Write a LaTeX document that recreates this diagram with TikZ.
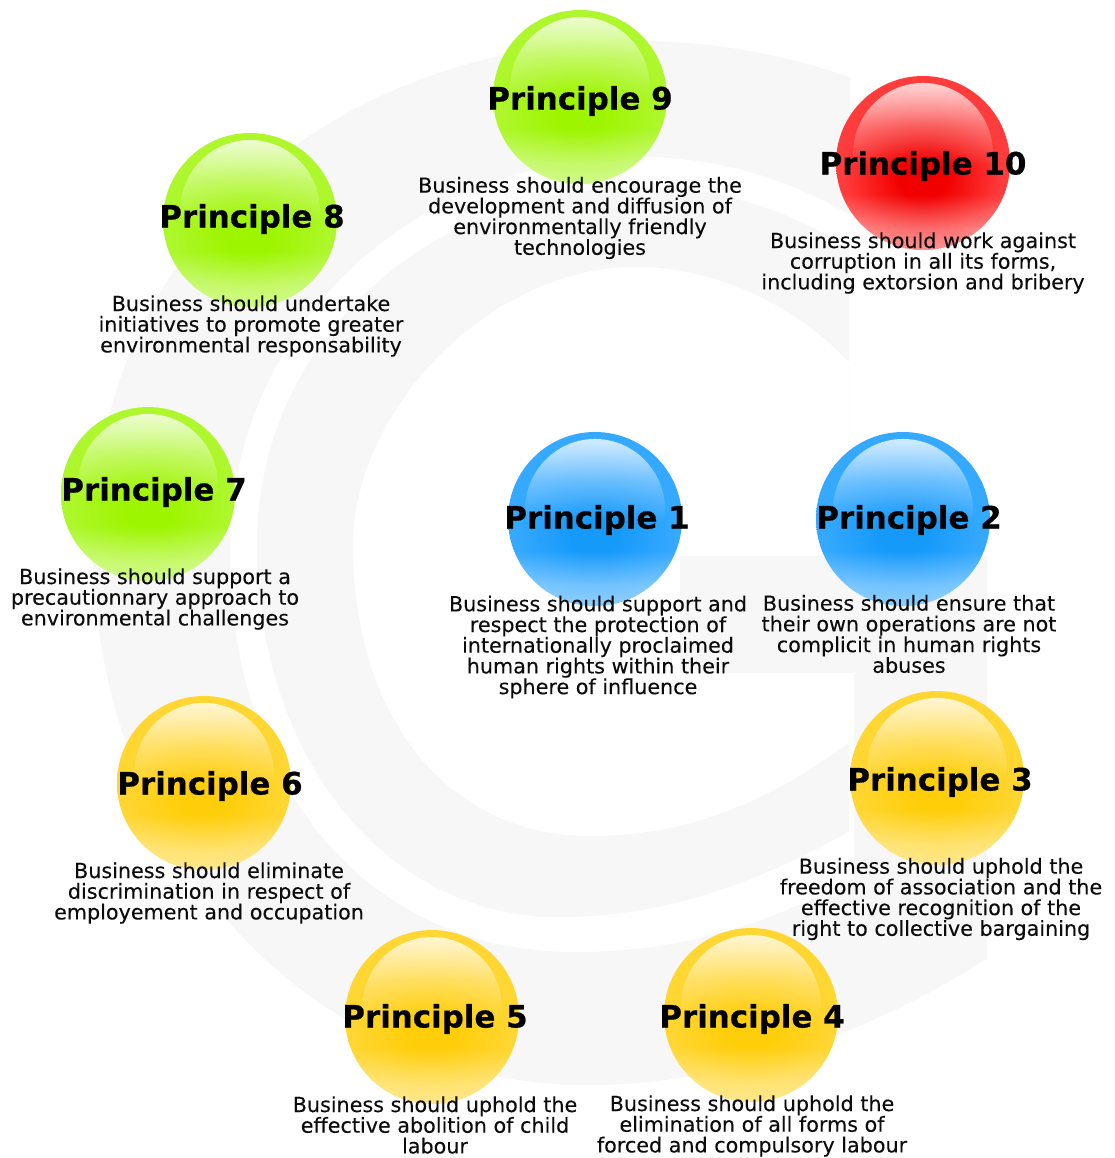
\documentclass[tikz,border=0pt]{standalone}
\usepackage{fontspec}
\setmainfont{DejaVu Sans}[FakeBold=0.12,BoldFeatures={FakeBold=0.5}]
\usetikzlibrary{fadings}
\definecolor{gband}{HTML}{F7F7F8}
\definecolor{txt}{HTML}{0C0C0C}
% colours: rim, core
\newcommand{\balldefs}[3]{%
  \definecolor{#1rim}{HTML}{#2}\definecolor{#1core}{HTML}{#3}%
  \pgfdeclareradialshading{#1shade}{\pgfpoint{0bp}{-4bp}}{%
    color(0bp)=(#1core); color(7bp)=(#1core); color(23bp)=(#1rim); color(70bp)=(#1rim)}%
}
\balldefs{gr}{ADF72C}{9EF500}
\balldefs{re}{FF3C3C}{F20000}
\balldefs{bl}{35A9FF}{169AFA}
\balldefs{ye}{FFD632}{FFCE0A}
\pgfdeclareverticalshading{glossmask}{100bp}{color(0bp)=(transparent!100); color(46bp)=(transparent!100); color(60bp)=(transparent!70); color(75bp)=(transparent!22); color(100bp)=(transparent!22)}
\pgfdeclarefading{glossfade}{\pgfuseshading{glossmask}}
\pgfdeclareverticalshading{lowmask}{100bp}{color(0bp)=(transparent!55); color(25bp)=(transparent!55); color(31bp)=(transparent!65); color(41bp)=(transparent!100); color(100bp)=(transparent!100)}
\pgfdeclarefading{lowfade}{\pgfuseshading{lowmask}}
\tikzset{
  titletext/.style={font=\bfseries\fontsize{30.9}{34}\selectfont, text=black, inner sep=0pt},
  bodytext/.style={font=\fontsize{20.7}{20.7}\selectfont, text=txt, align=center, inner sep=0pt},
  ball/.style={circle, minimum size=174pt, inner sep=0pt, shading=#1shade},
}
\newcommand{\glossball}[4]{% name, colour, x, y
  \node[ball=#2] (#1) at (#3,#4) {};
  \fill[white, path fading=lowfade] (#1) circle [radius=87pt];
  \fill[white, path fading=glossfade] (#3,#4-9) ellipse [x radius=70pt, y radius=71pt];
}
\begin{document}
\begin{tikzpicture}[x=1pt,y=-1pt]
\useasboundingbox (0,0) rectangle (1114,1158);
\fill[white] (0,0) rectangle (1114,1158);
% background G
\begin{scope}
  \clip (0,0) -- (850,0) -- (850,556) -- (987,556) -- (987,1158) -- (0,1158) -- cycle;
  \fill[gband] (640,41) .. controls (330,41) and (93,250) .. (93,545)
    .. controls (93,830) and (290,1085) .. (590,1085)
    .. controls (730,1085) and (880,1030) .. (1000,950)
    -- (1100,600) -- (1000,150)
    .. controls (900,85) and (770,41) .. (640,41) -- cycle;
\end{scope}
\begin{scope}
  \clip (0,0) rectangle (854,1158);
  \fill[white] (640,157) .. controls (410,157) and (230,330) .. (230,550)
    .. controls (230,790) and (370,952) .. (575,952)
    .. controls (690,952) and (790,920) .. (900,850)
    .. controls (1000,700) and (1000,350) .. (850,215)
    .. controls (790,180) and (720,157) .. (640,157) -- cycle;
\end{scope}
\begin{scope}
  \clip (0,0) rectangle (849,1158);
  \fill[gband] (640,187) .. controls (430,187) and (257,340) .. (257,545)
    .. controls (257,750) and (380,917) .. (560,917)
    .. controls (660,917) and (770,885) .. (900,800)
    .. controls (1000,650) and (1000,350) .. (850,250)
    .. controls (790,210) and (720,187) .. (640,187) -- cycle;
  \fill[white] (635,267) .. controls (490,267) and (353,410) .. (353,545)
    .. controls (353,720) and (450,836) .. (590,836)
    .. controls (690,836) and (790,800) .. (900,700)
    .. controls (960,600) and (960,480) .. (850,363)
    .. controls (790,300) and (710,267) .. (635,267) -- cycle;
\end{scope}
\fill[gband] (680,556) rectangle (987,673);
% balls
\glossball{b1}{bl}{595}{519}
\glossball{b2}{bl}{903}{519}
\glossball{b3}{ye}{937}{778}
\glossball{b4}{ye}{751}{1015}
\glossball{b5}{ye}{432}{1017}
\glossball{b6}{ye}{204}{783}
\glossball{b7}{gr}{148}{494}
\glossball{b8}{gr}{250}{220}
\glossball{b9}{gr}{580}{97}
\glossball{b10}{re}{923}{163}
% titles
\node[titletext] (t1) at (597,520) {Principle 1};
\node[titletext] (t2) at (909,520) {Principle 2};
\node[titletext] (t3) at (940,782) {Principle 3};
\node[titletext] (t4) at (752,1019) {Principle 4};
\node[titletext] (t5) at (435,1019) {Principle 5};
\node[titletext] (t6) at (210,786) {Principle 6};
\node[titletext] (t7) at (154,492) {Principle 7};
\node[titletext] (t8) at (252,219) {Principle 8};
\node[titletext] (t9) at (580,101) {Principle 9};
\node[titletext] (t10) at (923,166) {Principle 10};
% descriptions
\node[bodytext] (d1) at (598,647) {Business should support and\\respect the protection of\\internationally proclaimed\\human rights within their\\sphere of influence};
\node[bodytext] (d2) at (909,634) {Business should ensure that\\their own operations are not\\complicit in human rights\\abuses};
\node[bodytext] (d3) at (941,899) {Business should uphold the\\freedom of association and the\\effective recognition of the\\right to collective bargaining};
\node[bodytext] (d4) at (752,1126) {Business should uphold the\\elimination of all forms of\\forced and compulsory labour};
\node[bodytext] (d5) at (435,1125) {Business should uphold the\\effective abolition of child\\labour};
\node[bodytext] (d6) at (209,893) {Business should eliminate\\discrimination in respect of\\employement and occupation};
\node[bodytext] (d7) at (155,599) {Business should support a\\precautionnary approach to\\environmental challenges};
\node[bodytext] (d8) at (251,326) {Business should undertake\\initiatives to promote greater\\environmental responsability};
\node[bodytext] (d9) at (580,218) {Business should encourage the\\development and diffusion of\\environmentally friendly\\technologies};
\node[bodytext] (d10) at (923,263) {Business should work against\\corruption in all its forms,\\including extorsion and bribery};
\end{tikzpicture}
\end{document}
